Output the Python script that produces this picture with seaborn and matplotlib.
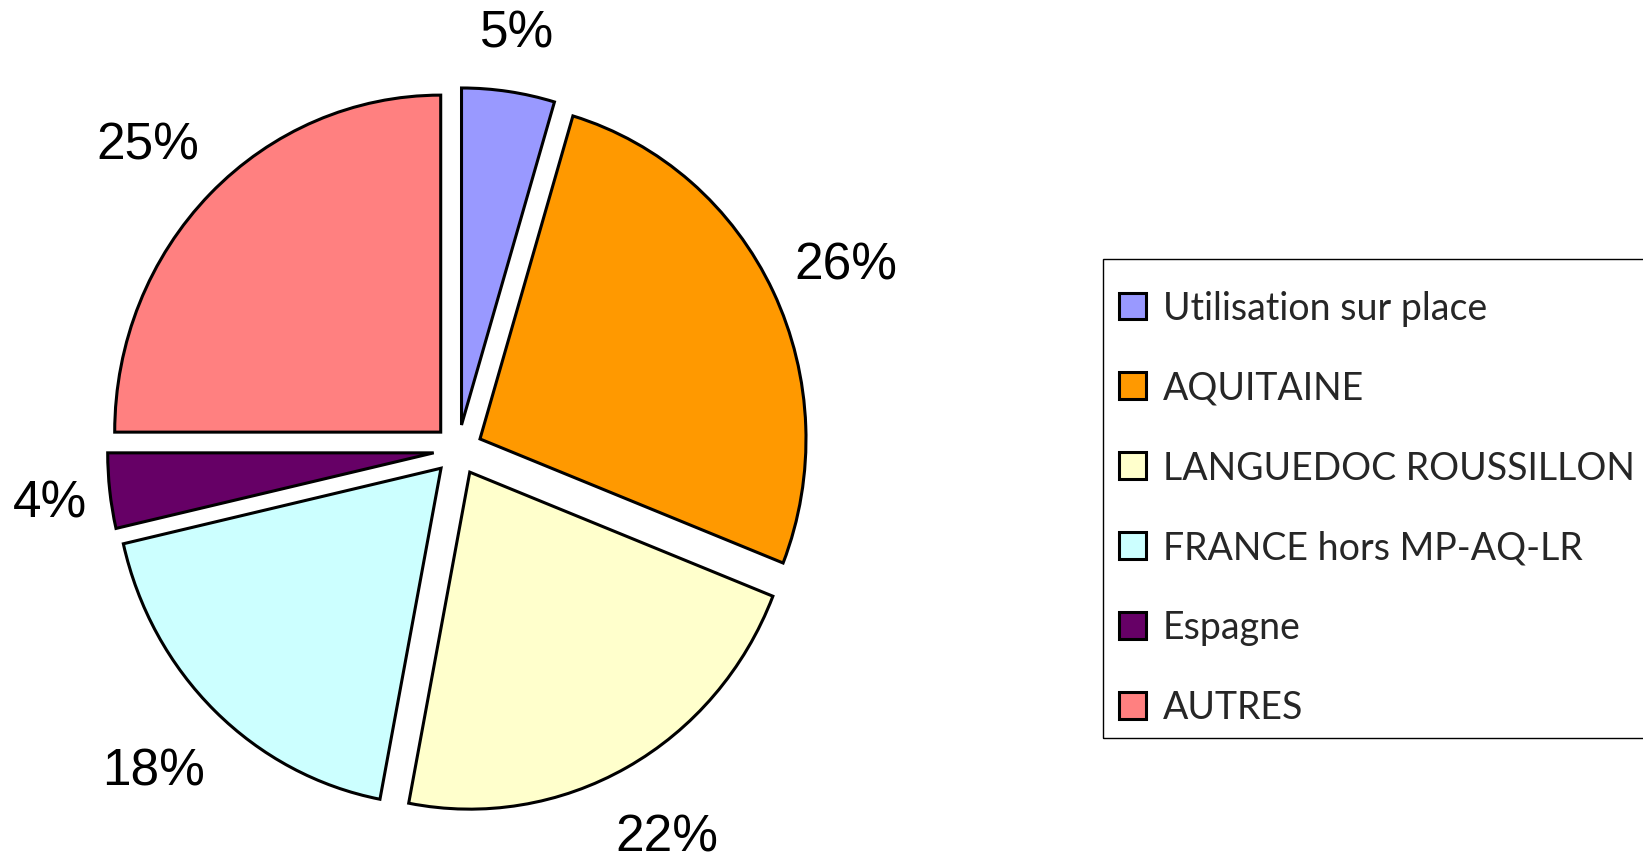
import numpy as np
import matplotlib
matplotlib.use('Agg')
import matplotlib.pyplot as plt
import seaborn as sns
from matplotlib.patches import Patch, Rectangle

# data (percent shares, clockwise from 12 o'clock)
categories = ["Utilisation sur place", "AQUITAINE", "LANGUEDOC ROUSSILLON",
              "FRANCE hors MP-AQ-LR", "Espagne", "AUTRES"]
shares = [4.6, 26.4, 22.0, 18.4, 3.6, 25.0]
slice_colors = ["#9999FF", "#FF9900", "#FFFFCC", "#CCFFFF", "#660066", "#FF8080"]

sns.set_theme(style="white")
plt.rcParams['font.family'] = ['Liberation Sans', 'DejaVu Sans']

W, H = 1643, 853
fig = plt.figure(figsize=(W / 100, H / 100), dpi=100)
fig.patch.set_facecolor("white")

# pie axes on the left part; the original pie is a touch taller than wide
cx, cy = 458, 451
Rx, Ry = 326, 337
ax_w = 920
ax = fig.add_axes([0, 0, ax_w / W, 1])
palette = sns.color_palette(slice_colors)

explode = 0.075
wedges, texts, autotexts = ax.pie(
    shares, colors=palette, startangle=90, counterclock=False,
    explode=[explode] * len(shares), autopct="%.0f%%", pctdistance=1.2,
    wedgeprops=dict(edgecolor="black", linewidth=2.2),
    textprops=dict(fontsize=37, color="black"))

ax.set_xlim(-cx / Rx, (ax_w - cx) / Rx)
ax.set_ylim(-(H - cy) / Ry, cy / Ry)
ax.set_aspect("auto")
ax.axis("off")

# labels outside the slices, a little further out on the diagonals
for w, t in zip(wedges, autotexts):
    th = np.deg2rad((w.theta1 + w.theta2) / 2)
    diag = abs(np.sin(2 * th))
    x = (1.234 + 0.111 * diag) * np.cos(th)
    y = (1.25 + 0.05 * diag) * np.sin(th) - 0.015
    t.set_position((x, y))

# legend on the right, frame drawn by hand so the box runs off the edge
handles = [Patch(facecolor=c, edgecolor="black", linewidth=2.2) for c in slice_colors]
leg = fig.legend(handles, categories, loc="upper left",
                 bbox_to_anchor=(1119 / W, 1 - 291 / H),
                 prop=dict(family="Lato", size=27),
                 frameon=False, borderpad=0,
                 labelspacing=1.17, handlelength=0.72, handleheight=0.72,
                 handletextpad=0.45, borderaxespad=0)
fig.add_artist(Rectangle((1103 / W, 1 - 739 / H), 0.5, (739 - 260) / H,
                         transform=fig.transFigure, fill=False,
                         edgecolor="black", linewidth=1.0))

fig.savefig("out.png", dpi=100)
